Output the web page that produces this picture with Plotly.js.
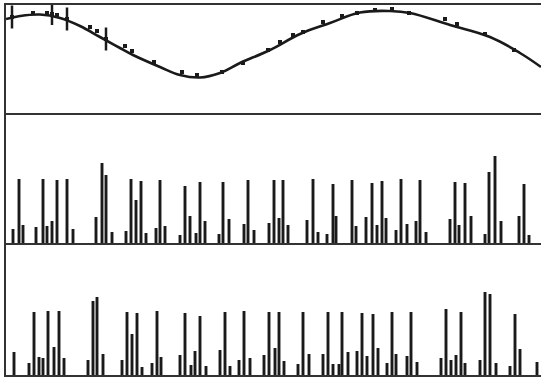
<!DOCTYPE html>
<html>
<head>
<meta charset="utf-8">
<script src="https://cdn.plot.ly/plotly-3.0.1.min.js"></script>
<style>html,body{margin:0;padding:0;background:#fff;}#chart{width:541px;height:377px;}</style>
</head>
<body>
<div id="chart"></div>
<script>
// Top panel: fitted curve (read at intervals) and measured points
const curveX = [0, 14, 34, 54, 74, 94, 114, 127, 154, 174, 194, 214, 234, 264, 294, 324, 354, 384, 404, 444, 484, 514, 535];
const curveY = [94, 97, 98.5, 95, 87, 76, 65, 58, 46, 38, 35.5, 40, 50, 63, 79, 90, 100.5, 102, 100, 88, 76, 60, 46];
const pointX = [6, 27, 41, 46, 51, 61, 84, 91, 100, 119, 126, 148, 176, 191, 216, 237, 262, 274, 287, 297, 317, 336, 351, 369, 386, 403, 439, 451, 479, 508];
const pointY = [96, 100, 100, 99, 98, 94, 86, 82, 74, 67, 62, 51, 41, 38, 41, 50, 63, 71, 78, 81, 91, 97, 100, 103, 104, 100, 94, 89, 79, 63];
const pointErr = [11.5, 0, 0, 11, 0, 11.5, 0, 0, 11.5, 0, 0, 0, 0, 0, 0, 0, 0, 0, 0, 0, 0, 0, 0, 0, 0, 0, 0, 0, 0, 0];

// Middle panel: spike train A
const midX = [7, 13, 17, 30, 37, 41, 46, 51, 61, 67, 90, 96, 100, 106, 120, 125, 130, 135, 140, 150, 154, 159, 174, 179, 184, 190, 194, 199, 213, 217, 223, 238, 242, 248, 263, 268, 273, 277, 282, 301, 307, 312, 321, 327, 330, 346, 350, 360, 366, 371, 376, 380, 390, 395, 401, 410, 414, 420, 444, 449, 453, 459, 465, 479, 483, 489, 495, 513, 518, 523];
const midY = [14, 64, 18, 16, 64, 17, 22, 63, 64, 14, 26, 80, 68, 11, 12, 64, 43, 62, 10, 15, 63, 17, 8, 57, 27, 10, 61, 22, 9, 61, 24, 19, 63, 13, 20, 63, 25, 63, 18, 23, 64, 11, 9, 59, 27, 63, 17, 26, 60, 18, 62, 25, 13, 64, 19, 22, 63, 11, 24, 61, 18, 60, 27, 9, 71, 87, 22, 27, 59, 8];

// Bottom panel: spike train B
const botX = [8, 23, 28, 33, 37, 42, 48, 53, 58, 82, 87, 91, 97, 116, 121, 126, 131, 136, 146, 151, 155, 174, 179, 185, 189, 194, 200, 214, 219, 224, 233, 238, 244, 258, 263, 269, 273, 278, 292, 297, 303, 317, 322, 327, 333, 336, 342, 351, 356, 361, 367, 372, 381, 386, 390, 401, 405, 411, 435, 440, 445, 450, 455, 459, 474, 479, 484, 490, 504, 509, 514, 531];
const botY = [23, 12, 63, 18, 17, 64, 28, 64, 17, 15, 74, 78, 21, 15, 63, 41, 62, 8, 12, 64, 18, 20, 62, 10, 24, 59, 9, 25, 63, 9, 15, 64, 17, 20, 63, 27, 63, 14, 11, 63, 21, 21, 63, 11, 11, 63, 23, 24, 62, 19, 61, 27, 12, 63, 21, 19, 63, 13, 17, 66, 15, 20, 63, 12, 15, 83, 81, 12, 9, 61, 26, 13];

const ink = '#1a1a1a';
const frame = '#333333';

const traces = [
  {x: curveX, y: curveY, type: 'scatter', mode: 'lines', line: {color: ink, width: 2.6, shape: 'spline', smoothing: 1.1}, xaxis: 'x', yaxis: 'y', hoverinfo: 'skip'},
  {x: pointX, y: pointY, type: 'scatter', mode: 'markers', marker: {symbol: 'square', size: 4, color: ink},
   error_y: {type: 'data', array: pointErr, visible: true, color: ink, thickness: 2.5, width: 0}, xaxis: 'x', yaxis: 'y'},
  {x: midX, y: midY, type: 'bar', width: 2.9, marker: {color: ink, line: {width: 0}}, xaxis: 'x2', yaxis: 'y2'},
  {x: botX, y: botY, type: 'bar', width: 2.9, marker: {color: ink, line: {width: 0}}, xaxis: 'x3', yaxis: 'y3'}
];

const xBase = {range: [0, 535], showline: true, linecolor: frame, linewidth: 2, showgrid: false, zeroline: false, showticklabels: false, ticks: '', fixedrange: true};
const yBase = {showline: true, mirror: false, linecolor: frame, linewidth: 2, showgrid: false, zeroline: false, showticklabels: false, ticks: '', fixedrange: true};

const layout = {
  width: 541, height: 377,
  margin: {l: 6, r: 0, t: 5, b: 2},
  paper_bgcolor: '#fff', plot_bgcolor: '#fff',
  showlegend: false,
  xaxis: Object.assign({}, xBase, {anchor: 'y', mirror: true}),
  xaxis2: Object.assign({}, xBase, {anchor: 'y2', mirror: false}),
  xaxis3: Object.assign({}, xBase, {anchor: 'y3', mirror: false}),
  yaxis: Object.assign({}, yBase, {domain: [0.7081, 1], range: [0, 108], anchor: 'x'}),
  yaxis2: Object.assign({}, yBase, {domain: [0.3568, 0.7081], range: [0, 130], anchor: 'x2'}),
  yaxis3: Object.assign({}, yBase, {domain: [0, 0.3541], range: [0, 131], anchor: 'x3'})
};

Plotly.newPlot('chart', traces, layout, {displayModeBar: false, staticPlot: true});
</script>
</body>
</html>
